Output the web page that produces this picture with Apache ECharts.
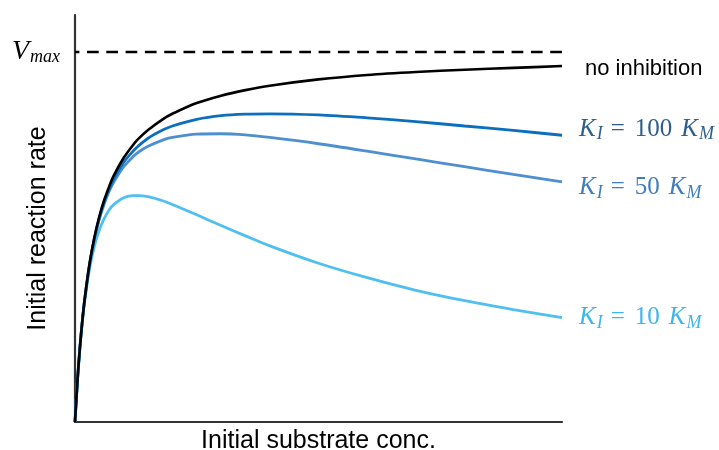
<!DOCTYPE html>
<html>
<head>
<meta charset="utf-8">
<script src="https://cdn.jsdelivr.net/npm/echarts@6/dist/echarts.min.js"></script>
<style>html,body{margin:0;padding:0;background:#fff}#c{width:719px;height:450px}</style>
</head>
<body>
<div id="c"></div>
<script>
// substrate concentration (arbitrary units, axis 0..100)
const substrate = [0, 0.5, 1, 1.5, 2, 3, 4, 5, 6, 7, 8, 10, 12, 13, 15, 18, 20, 25, 30, 35, 40, 50, 60, 70, 80, 90, 100];
// initial reaction rate as fraction of Vmax
const noInhibition = [0, 0.111, 0.200, 0.273, 0.333, 0.429, 0.500, 0.556, 0.600, 0.636, 0.667, 0.714, 0.750, 0.765, 0.789, 0.818, 0.833, 0.862, 0.882, 0.897, 0.909, 0.926, 0.938, 0.946, 0.952, 0.957, 0.962];
const ki100 = [0, 0.111, 0.200, 0.272, 0.333, 0.427, 0.498, 0.552, 0.595, 0.629, 0.658, 0.702, 0.733, 0.746, 0.767, 0.789, 0.800, 0.818, 0.828, 0.832, 0.833, 0.830, 0.822, 0.812, 0.800, 0.788, 0.775];
const ki50 = [0, 0.111, 0.200, 0.272, 0.332, 0.426, 0.495, 0.548, 0.589, 0.623, 0.649, 0.690, 0.718, 0.729, 0.745, 0.762, 0.769, 0.778, 0.779, 0.776, 0.769, 0.752, 0.732, 0.711, 0.690, 0.669, 0.649];
const ki10 = [0, 0.111, 0.199, 0.270, 0.328, 0.415, 0.476, 0.519, 0.550, 0.573, 0.588, 0.606, 0.612, 0.612, 0.609, 0.598, 0.588, 0.560, 0.531, 0.503, 0.476, 0.429, 0.390, 0.356, 0.328, 0.304, 0.282];
const vmaxLine = [[0, 1], [102.9, 1]];
const labels = ['no inhibition', '100', '50', '10'];

function pairs(ys) { return substrate.map((x, i) => [x, ys[i]]); }

const serif = '"Liberation Serif", "DejaVu Serif", serif';
function kRich(color) {
  return {
    k: { fontFamily: serif, fontStyle: 'italic', fontSize: 25, color: color, padding: [0, 1, 0, 0] },
    s: { fontFamily: serif, fontStyle: 'italic', fontSize: 18, color: color, padding: [11, 0, 0, 0] },
    e: { fontFamily: serif, fontSize: 25, color: color, padding: [0, 10, 0, 8] },
    t: { fontFamily: serif, fontSize: 25, color: color, padding: [0, 9, 0, 0] }
  };
}
function kLabel(n) { return '{k|K}{s|I}{e|=}{t|' + n + '}{k|K}{s|M}'; }

const chart = echarts.init(document.getElementById('c'));
chart.setOption({
  animation: false,
  backgroundColor: '#fff',
  grid: { left: 75, right: 157, top: 15, bottom: 28, containLabel: false, outerBoundsMode: 'none' },
  xAxis: {
    type: 'value', min: 0, max: 100,
    name: 'Initial substrate conc.', nameLocation: 'middle', nameGap: 7,
    nameTextStyle: { fontFamily: '"Liberation Sans", Arial, sans-serif', fontSize: 25, color: '#000', verticalAlign: 'top' },
    axisLine: { show: true, lineStyle: { color: '#333', width: 2.2 } },
    axisTick: { show: false }, axisLabel: { show: false }, splitLine: { show: false }
  },
  yAxis: {
    type: 'value', min: 0, max: 1.1, interval: 0.1,
    name: 'Initial reaction rate', nameLocation: 'middle', nameGap: 24, nameMoveOverlap: false,
    nameTextStyle: { fontFamily: '"Liberation Sans", Arial, sans-serif', fontSize: 25, color: '#000', padding: [0, 20, 0, 0] },
    axisLine: { show: true, lineStyle: { color: '#333', width: 2.2 } },
    axisTick: { show: false }, splitLine: { show: false },
    axisLabel: {
      show: true, margin: 15,
      formatter: v => Math.abs(v - 1) < 1e-6 ? '{v|V}{m|max}' : '',
      rich: {
        v: { fontFamily: serif, fontStyle: 'italic', fontSize: 28, color: '#000', padding: [0, 1, 0, 0] },
        m: { fontFamily: serif, fontStyle: 'italic', fontSize: 18, color: '#000', padding: [11, 0, 0, 0] }
      }
    }
  },
  series: [
    {
      type: 'line', data: vmaxLine, clip: false, symbol: 'none', silent: true, z: 1,
      lineStyle: { color: '#000', width: 2.4, type: [11.7, 7.6], dashOffset: 7.3 }
    },
    {
      type: 'line', data: pairs(noInhibition), symbol: 'none', smooth: 0.3, z: 5,
      lineStyle: { color: '#000', width: 2.6 },
      endLabel: { show: true, formatter: labels[0], offset: [15, 3], fontFamily: '"Liberation Sans", Arial, sans-serif', fontSize: 22, color: '#000' }
    },
    {
      type: 'line', data: pairs(ki100), symbol: 'none', smooth: 0.3, z: 4,
      lineStyle: { color: '#0b6fbe', width: 2.8 },
      endLabel: { show: true, formatter: kLabel(labels[1]), offset: [9, -6], rich: kRich('#2e5f8c') }
    },
    {
      type: 'line', data: pairs(ki50), symbol: 'none', smooth: 0.3, z: 3,
      lineStyle: { color: '#4d8fcf', width: 2.8 },
      endLabel: { show: true, formatter: kLabel(labels[2]), offset: [9, 6], rich: kRich('#3f7fc0') }
    },
    {
      type: 'line', data: pairs(ki10), symbol: 'none', smooth: 0.3, z: 2,
      lineStyle: { color: '#4fbff0', width: 2.8 },
      endLabel: { show: true, formatter: kLabel(labels[3]), offset: [9, 0], rich: kRich('#3bb7ee') }
    }
  ]
});
</script>
</body>
</html>
